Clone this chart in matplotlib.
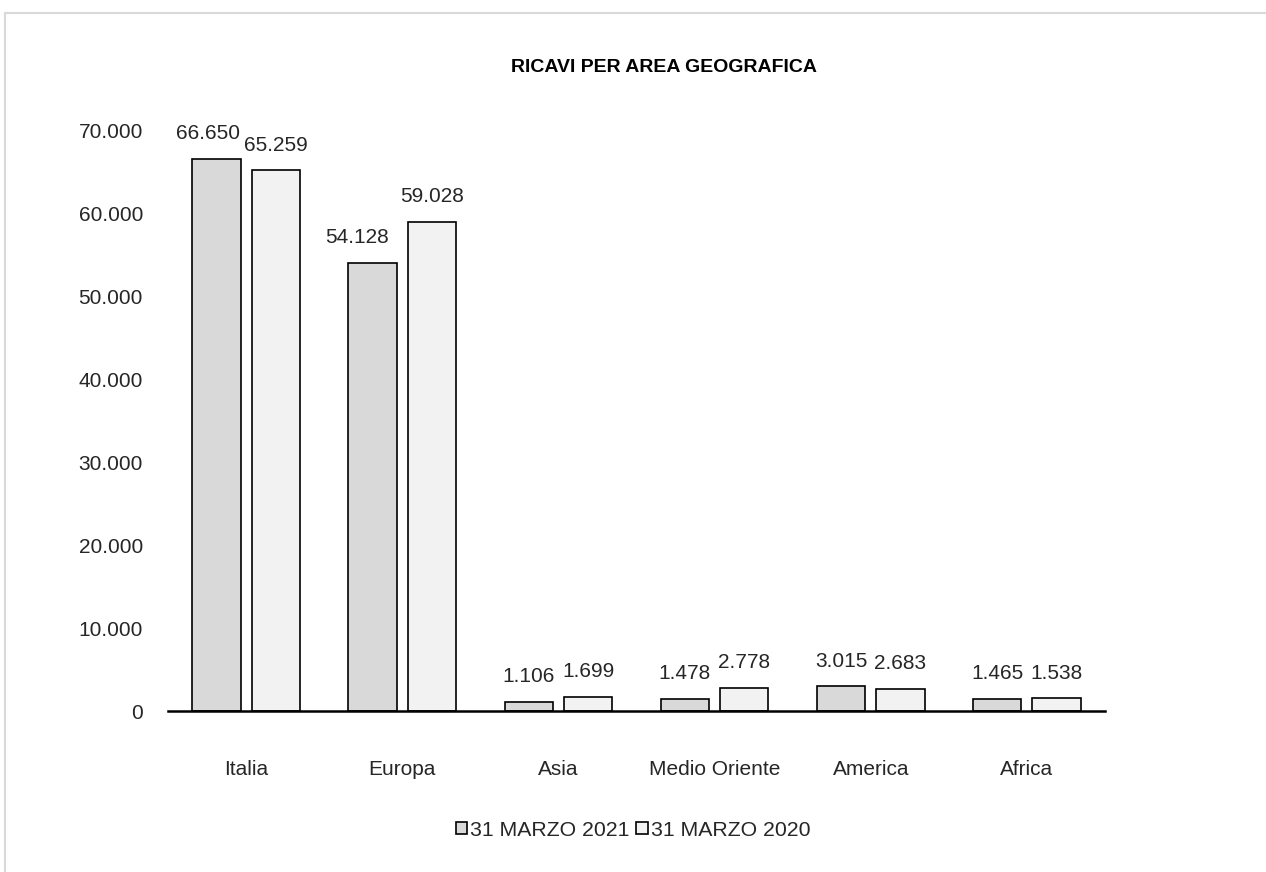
import matplotlib.pyplot as plt
import numpy as np
from matplotlib.patches import Rectangle

plt.rcParams["font.family"] = ["Liberation Sans", "DejaVu Sans"]

areas = ["Italia", "Europa", "Asia", "Medio Oriente", "America", "Africa"]
ricavi_2021 = [66650, 54128, 1106, 1478, 3015, 1465]
ricavi_2020 = [65259, 59028, 1699, 2778, 2683, 1538]
series_labels = ["31 MARZO 2021", "31 MARZO 2020"]
yticks = [0, 10000, 20000, 30000, 40000, 50000, 60000, 70000]

# horizontal nudges (points) of a few 2021 labels, as laid out in the source chart
label_nudge_2021 = {0: -6, 1: -11}


def fmt_it(v):
    return f"{v:,.0f}".replace(",", ".")


fig = plt.figure(figsize=(12.66, 8.72), dpi=100)
fig.patches.append(Rectangle((5 / 1266, -0.1), 1.1, 1.1 - 13 / 872, transform=fig.transFigure,
                             fill=False, edgecolor="#d9d9d9", linewidth=1.5, zorder=0))

ax = fig.add_axes([168 / 1266, 1 - 711 / 872, (1105 - 168) / 1266, (711 - 131) / 872])
x = np.arange(len(areas))
w = 0.31
off = 0.19
b1 = ax.bar(x - off, ricavi_2021, w, color="#d9d9d9", edgecolor="black", linewidth=1.2,
            label=series_labels[0])
b2 = ax.bar(x + off, ricavi_2020, w, color="#f2f2f2", edgecolor="black", linewidth=1.2,
            label=series_labels[1])

for k, bars in enumerate((b1, b2)):
    for i, r in enumerate(bars):
        dx = label_nudge_2021.get(i, 0) if k == 0 else 0
        ax.annotate(fmt_it(r.get_height()), (r.get_x() + r.get_width() / 2, r.get_height()),
                    xytext=(dx, 18), textcoords="offset points", ha="center", va="center",
                    fontsize=15, color="#262626", annotation_clip=False)

ax.set_xlim(-0.5, len(areas) - 0.5)
ax.set_ylim(0, 70000)
ax.set_yticks(yticks)
ax.set_yticklabels([fmt_it(v) for v in yticks])
ax.set_xticks(x)
ax.set_xticklabels(areas)
for s in ("top", "right", "left"):
    ax.spines[s].set_visible(False)
ax.spines["bottom"].set_linewidth(1.8)
ax.tick_params(axis="y", length=0, pad=18, labelsize=15, labelcolor="#262626")
ax.tick_params(axis="x", length=0, pad=35, labelsize=15, labelcolor="#262626")

fig.text(664 / 1266, 1 - 68 / 872, "RICAVI PER AREA GEOGRAFICA", ha="center", va="center",
         fontsize=14, fontweight="bold", color="black")

fig.legend(handles=[b1, b2], labels=series_labels, loc="center", bbox_to_anchor=(0.5, 1 - 830 / 872),
           ncol=2, frameon=False, fontsize=15.3, handlelength=0.55, handleheight=0.55,
           handletextpad=0.15, columnspacing=0.3, labelcolor="#262626")

fig.savefig("out.png", dpi=100)
